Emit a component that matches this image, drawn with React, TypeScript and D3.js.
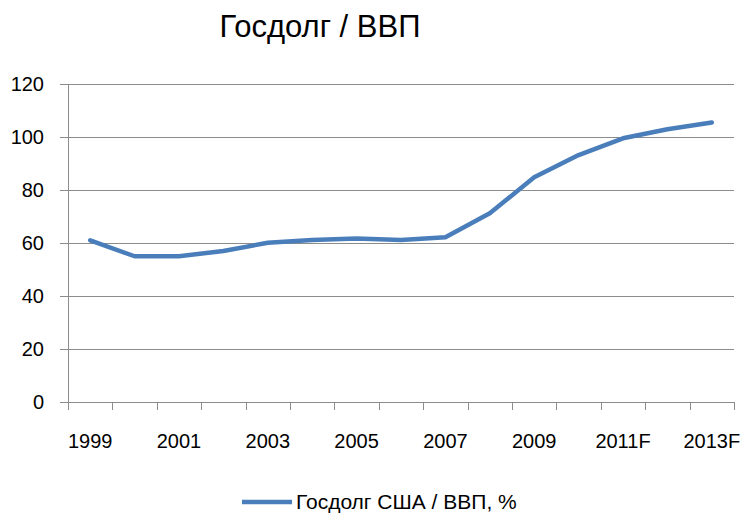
import React, { useEffect, useRef } from 'react';
import * as d3 from 'd3';

const categories = ['1999', '2000', '2001', '2002', '2003', '2004', '2005', '2006', '2007', '2008', '2009', '2010', '2011F', '2012F', '2013F'];
const debtToGdp = [61, 55, 55, 57, 60.1, 61.1, 61.7, 61.1, 62.2, 71.2, 84.8, 93.2, 99.5, 102.9, 105.5];
const yTicks = [0, 20, 40, 60, 80, 100, 120];
const shownLabels = ['1999', '2001', '2003', '2005', '2007', '2009', '2011F', '2013F'];

const App = () => {
    const svgRef = useRef<SVGSVGElement>(null);

    useEffect(() => {
        const width = 741;
        const height = 514;
        const svg = d3.select(svgRef.current)
            .attr('width', width)
            .attr('height', height);

        svg.selectAll('*').remove();

        const left = 68, right = 734, top = 84, bottom = 402;
        const font = 'Arial, "Liberation Sans", sans-serif';
        const gridColor = '#8c8c8c';

        const x = d3.scaleBand()
            .domain(categories)
            .range([left, right]);

        const y = d3.scaleLinear()
            .domain([0, 120])
            .range([bottom, top]);

        // title
        svg.append('text')
            .attr('x', 320)
            .attr('y', 37)
            .attr('text-anchor', 'middle')
            .style('font-family', font)
            .style('font-size', '31px')
            .text('Госдолг / ВВП');

        // horizontal gridlines + y ticks
        svg.append('g')
            .selectAll('line')
            .data(yTicks)
            .join('line')
            .attr('x1', left - 8)
            .attr('x2', right)
            .attr('y1', d => y(d) + 0.5)
            .attr('y2', d => y(d) + 0.5)
            .attr('stroke', gridColor)
            .attr('stroke-width', 1);

        svg.append('g')
            .selectAll('text')
            .data(yTicks)
            .join('text')
            .attr('x', 44)
            .attr('y', d => y(d))
            .attr('dy', '0.35em')
            .attr('text-anchor', 'end')
            .style('font-family', font)
            .style('font-size', '20px')
            .text(d => d);

        // y axis line
        svg.append('line')
            .attr('x1', left + 0.5)
            .attr('x2', left + 0.5)
            .attr('y1', top)
            .attr('y2', bottom + 8)
            .attr('stroke', gridColor);

        // x ticks at band edges
        const edges = categories.map(c => x(c) as number).concat([right]);
        svg.append('g')
            .selectAll('line')
            .data(edges)
            .join('line')
            .attr('x1', d => Math.round(d) + 0.5)
            .attr('x2', d => Math.round(d) + 0.5)
            .attr('y1', bottom)
            .attr('y2', bottom + 8)
            .attr('stroke', gridColor);

        svg.append('g')
            .selectAll('text')
            .data(shownLabels)
            .join('text')
            .attr('x', d => (x(d) as number) + x.bandwidth() / 2)
            .attr('y', 448)
            .attr('text-anchor', 'middle')
            .style('font-family', font)
            .style('font-size', '20px')
            .text(d => d);

        // series line
        const line = d3.line<number>()
            .x((d, i) => (x(categories[i]) as number) + x.bandwidth() / 2)
            .y(d => y(d));

        svg.append('path')
            .datum(debtToGdp)
            .attr('d', line)
            .attr('fill', 'none')
            .attr('stroke', '#4a7ebb')
            .attr('stroke-width', 4.5)
            .attr('stroke-linejoin', 'round')
            .attr('stroke-linecap', 'round');

        // legend
        svg.append('line')
            .attr('x1', 242)
            .attr('x2', 292)
            .attr('y1', 502)
            .attr('y2', 502)
            .attr('stroke', '#4a7ebb')
            .attr('stroke-width', 4.5);

        svg.append('text')
            .attr('x', 296)
            .attr('y', 509)
            .style('font-family', font)
            .style('font-size', '21px')
            .text('Госдолг США / ВВП, %');
    }, []);

    return <svg ref={svgRef} style={{ display: 'block', position: 'absolute', left: 0, top: 0 }}></svg>;
};

export default App;
